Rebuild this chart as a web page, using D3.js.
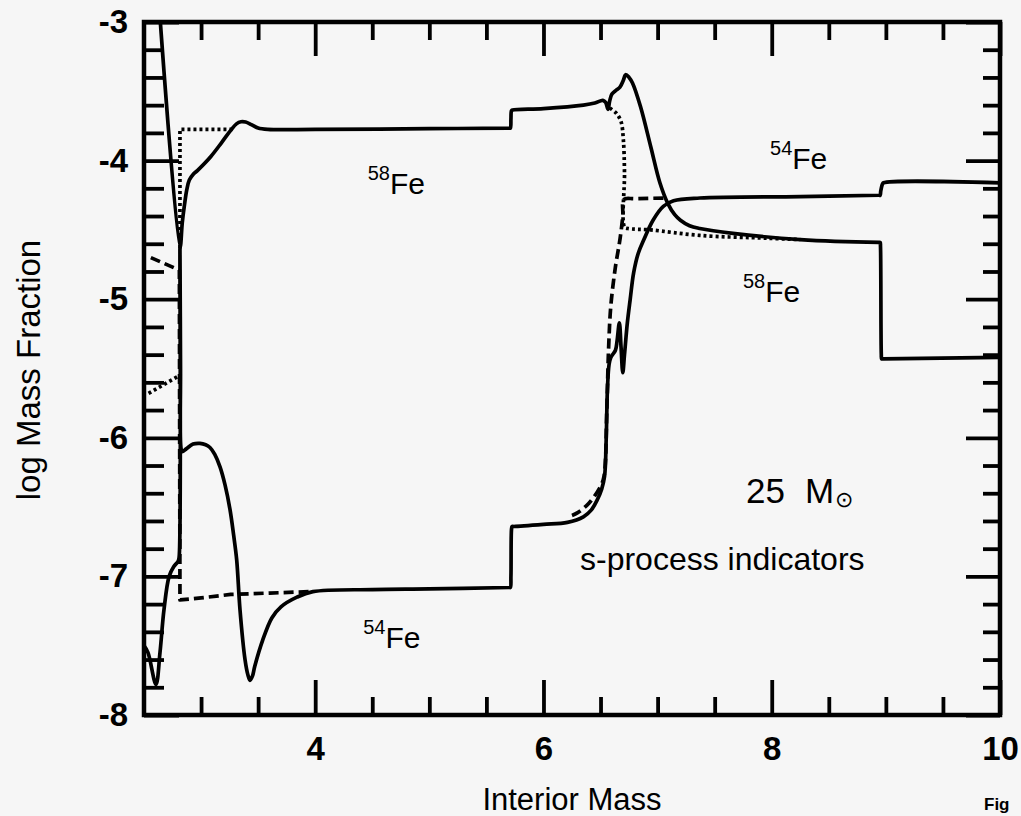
<!DOCTYPE html>
<html>
<head>
<meta charset="utf-8">
<script src="https://cdn.jsdelivr.net/npm/d3@7"></script>
<style>
  html, body { margin: 0; padding: 0; background: #f6f6f6; }
  svg { display: block; }
  text { font-family: "Liberation Sans", Arial, Helvetica, sans-serif; fill: #000; }
</style>
</head>
<body>
<svg id="chart" width="1021" height="816"></svg>
<script>
// ---------------- data ----------------
const xMajorTicks = [4, 6, 8, 10];
const xMinorTicks = [3, 3.5, 4.5, 5, 5.5, 6.5, 7, 7.5, 8.5, 9, 9.5];
const yMajorTicks = [-8, -7, -6, -5, -4, -3];
const yMinorTicks = [-7.8, -7.6, -7.4, -7.2, -6.8, -6.6, -6.4, -6.2, -5.8, -5.6, -5.4, -5.2,
                     -4.8, -4.6, -4.4, -4.2, -3.8, -3.6, -3.4, -3.2];

// solid 58Fe
const fe58Solid = [
  [2.63, -2.85], [2.815, -4.63], [2.835, -4.45], [2.853, -4.33], [2.875, -4.21],
  [2.897, -4.14], [2.93, -4.10], [2.97, -4.07], [3.086, -3.97], [3.18, -3.87],
  [3.261, -3.78], [3.31, -3.735], [3.35, -3.72], [3.39, -3.722], [3.44, -3.74],
  [3.50, -3.765], [3.585, -3.775], [4.0, -3.775], [5.0, -3.77], [5.70, -3.765],
  [5.71, -3.765], [5.715, -3.70], [5.72, -3.64], [5.73, -3.635], [6.0, -3.625],
  [6.35, -3.60], [6.45, -3.585], [6.52, -3.565], [6.545, -3.58], [6.565, -3.63],
  [6.58, -3.57], [6.60, -3.52], [6.64, -3.49], [6.67, -3.47], [6.70, -3.42],
  [6.72, -3.38], [6.75, -3.40], [6.78, -3.44], [6.85, -3.61], [6.94, -3.90],
  [7.02, -4.16], [7.09, -4.31], [7.15, -4.39], [7.20, -4.43], [7.28, -4.47],
  [7.37, -4.49], [7.66, -4.525], [8.25, -4.57], [8.94, -4.59], [8.95, -4.59],
  [8.953, -4.62], [8.96, -5.40], [8.963, -5.43], [8.975, -5.43], [10.0, -5.42]
];

// solid 54Fe
const fe54Solid = [
  [2.5, -7.50], [2.535, -7.55], [2.605, -7.78], [2.64, -7.55], [2.675, -7.24],
  [2.72, -7.0], [2.76, -6.93], [2.80, -6.89], [2.808, -6.86], [2.815, -4.63],
  [2.82, -5.5], [2.825, -6.08], [2.835, -6.10], [2.87, -6.08], [2.93, -6.045],
  [2.99, -6.04], [3.04, -6.05], [3.078, -6.07], [3.12, -6.12], [3.166, -6.21],
  [3.21, -6.34], [3.254, -6.52], [3.285, -6.70], [3.312, -6.88], [3.341, -7.24],
  [3.385, -7.60], [3.41, -7.71], [3.429, -7.75], [3.45, -7.72], [3.47, -7.65],
  [3.54, -7.46], [3.62, -7.30], [3.70, -7.22], [3.84, -7.15], [3.98, -7.11],
  [4.5, -7.095], [5.0, -7.09], [5.70, -7.08], [5.71, -7.08], [5.715, -7.0],
  [5.72, -6.66], [5.725, -6.64], [5.74, -6.64], [6.0, -6.625], [6.21, -6.61],
  [6.35, -6.57], [6.42, -6.52], [6.47, -6.45], [6.51, -6.37], [6.535, -6.28],
  [6.55, -6.0], [6.56, -5.66], [6.575, -5.47], [6.59, -5.42], [6.63, -5.37],
  [6.645, -5.30], [6.665, -5.17], [6.68, -5.35], [6.695, -5.53], [6.71, -5.40],
  [6.735, -5.17], [6.76, -5.00], [6.79, -4.81], [6.83, -4.67], [6.88, -4.57],
  [6.96, -4.43], [7.05, -4.33], [7.14, -4.29], [7.37, -4.27], [8.25, -4.26],
  [8.94, -4.25], [8.95, -4.25], [8.955, -4.22], [8.97, -4.17], [8.98, -4.16],
  [10.0, -4.16]
];

// dotted 58Fe (three pieces)
const fe58DottedA = [[2.54, -5.68], [2.79, -5.56]];
const fe58DottedB = [[2.815, -4.63], [2.815, -3.775], [3.30, -3.775]];
const fe58DottedC = [
  [6.58, -3.62], [6.64, -3.66], [6.68, -3.72], [6.70, -3.85], [6.71, -4.09],
  [6.71, -4.48], [6.74, -4.49], [6.94, -4.50], [7.37, -4.54], [7.96, -4.56], [8.25, -4.57]
];

// dashed 54Fe (two pieces)
const fe54DashedA = [
  [2.56, -4.70], [2.81, -4.79], [2.815, -7.17], [3.0, -7.155], [3.26, -7.13],
  [3.6, -7.12], [3.96, -7.11]
];
const fe54DashedB = [
  [6.25, -6.56], [6.30, -6.54], [6.40, -6.47], [6.50, -6.35], [6.53, -6.28],
  [6.555, -5.80], [6.57, -5.37], [6.59, -5.05], [6.63, -4.77], [6.67, -4.57],
  [6.695, -4.40], [6.705, -4.28], [6.80, -4.275], [7.08, -4.27]
];

const isotopeLabels = [
  { mass: "58", el: "Fe", x: 4.46, y: -4.24 },
  { mass: "54", el: "Fe", x: 7.985, y: -4.06 },
  { mass: "58", el: "Fe", x: 7.748, y: -5.02 },
  { mass: "54", el: "Fe", x: 4.42, y: -7.52 }
];

// ---------------- layout ----------------
const svg = d3.select("#chart");
const L = 144, R = 1000, T = 22, B = 715;
const x = d3.scaleLinear().domain([2.5, 10]).range([L, R]);
const y = d3.scaleLinear().domain([-8, -3]).range([B, T]);

svg.append("rect").attr("width", 1021).attr("height", 816).attr("fill", "#f6f6f6");

svg.append("defs").append("clipPath").attr("id", "clip")
  .append("rect").attr("x", L).attr("y", T).attr("width", R - L).attr("height", B - T);

const smooth = d3.line().x(d => x(d[0])).y(d => y(d[1])).curve(d3.curveCatmullRom.alpha(0.5));
const straight = d3.line().x(d => x(d[0])).y(d => y(d[1]));
const plot = svg.append("g").attr("clip-path", "url(#clip)");

function curve(data, gen, dash) {
  plot.append("path").datum(data).attr("d", gen)
    .attr("fill", "none").attr("stroke", "#000").attr("stroke-width", 3.7)
    .attr("stroke-linejoin", "round")
    .attr("stroke-dasharray", dash || null);
}
curve(fe58Solid, smooth);
curve(fe54Solid, smooth);
curve(fe58DottedA, straight, "3,3");
curve(fe58DottedB, straight, "3,3");
curve(fe58DottedC, smooth, "3,3");
curve(fe54DashedA, straight, "10,5");
curve(fe54DashedB, smooth, "10,5");

// axes with inward ticks
function styleAxis(g) {
  g.select(".domain").remove();
  g.selectAll(".tick line").attr("stroke", "#000").attr("stroke-width", 3.8);
}
const tickFont = g => g.selectAll("text")
  .style("font-family", '"Liberation Sans", Arial, sans-serif')
  .style("font-size", "33px").style("font-weight", "bold").attr("fill", "#000");
const fmt = d => String(d);

svg.append("g").attr("transform", `translate(0,${B})`)
  .call(d3.axisBottom(x).tickValues(xMajorTicks).tickSize(-35).tickPadding(22).tickFormat(fmt))
  .call(styleAxis).call(tickFont);
svg.append("g").attr("transform", `translate(0,${B})`)
  .call(d3.axisBottom(x).tickValues(xMinorTicks).tickSize(-18).tickFormat(""))
  .call(styleAxis);
svg.append("g").attr("transform", `translate(0,${T})`)
  .call(d3.axisTop(x).tickValues(xMajorTicks).tickSize(-34).tickFormat(""))
  .call(styleAxis);
svg.append("g").attr("transform", `translate(0,${T})`)
  .call(d3.axisTop(x).tickValues(xMinorTicks).tickSize(-18).tickFormat(""))
  .call(styleAxis);

svg.append("g").attr("transform", `translate(${L},0)`)
  .call(d3.axisLeft(y).tickValues(yMajorTicks).tickSize(-35).tickPadding(16).tickFormat(fmt))
  .call(styleAxis).call(tickFont);
svg.append("g").attr("transform", `translate(${L},0)`)
  .call(d3.axisLeft(y).tickValues(yMinorTicks).tickSize(-20).tickFormat(""))
  .call(styleAxis);
svg.append("g").attr("transform", `translate(${R},0)`)
  .call(d3.axisRight(y).tickValues(yMajorTicks).tickSize(-34).tickFormat(""))
  .call(styleAxis);
svg.append("g").attr("transform", `translate(${R},0)`)
  .call(d3.axisRight(y).tickValues(yMinorTicks).tickSize(-17).tickFormat(""))
  .call(styleAxis);

// frame
svg.append("rect").attr("x", L).attr("y", T).attr("width", R - L).attr("height", B - T)
  .attr("fill", "none").attr("stroke", "#000").attr("stroke-width", 4.5);

// axis titles
svg.append("text").attr("x", 572).attr("y", 810).attr("text-anchor", "middle")
  .style("font-size", "31px").text("Interior Mass");
svg.append("text").attr("transform", "translate(40,370) rotate(-90)").attr("text-anchor", "middle")
  .style("font-size", "33px").text("log Mass Fraction");

// isotope labels
isotopeLabels.forEach(l => {
  const t = svg.append("text").attr("x", x(l.x)).attr("y", y(l.y)).style("font-size", "30px");
  t.append("tspan").style("font-size", "20px").attr("dy", -14).text(l.mass);
  t.append("tspan").attr("dy", 14).text(l.el);
});

// annotations
const ann = svg.append("text").attr("x", 746).attr("y", 503).style("font-size", "35px");
ann.append("tspan").text("25");
ann.append("tspan").attr("dx", 20).text("M");
ann.append("tspan").style("font-size", "22px").attr("dx", 1).attr("dy", 4).text("⊙");

svg.append("text").attr("x", 580).attr("y", 570).style("font-size", "32px").text("s-process indicators");

svg.append("text").attr("x", 984).attr("y", 810).style("font-size", "17px").style("font-weight", "bold").text("Fig");
</script>
</body>
</html>
